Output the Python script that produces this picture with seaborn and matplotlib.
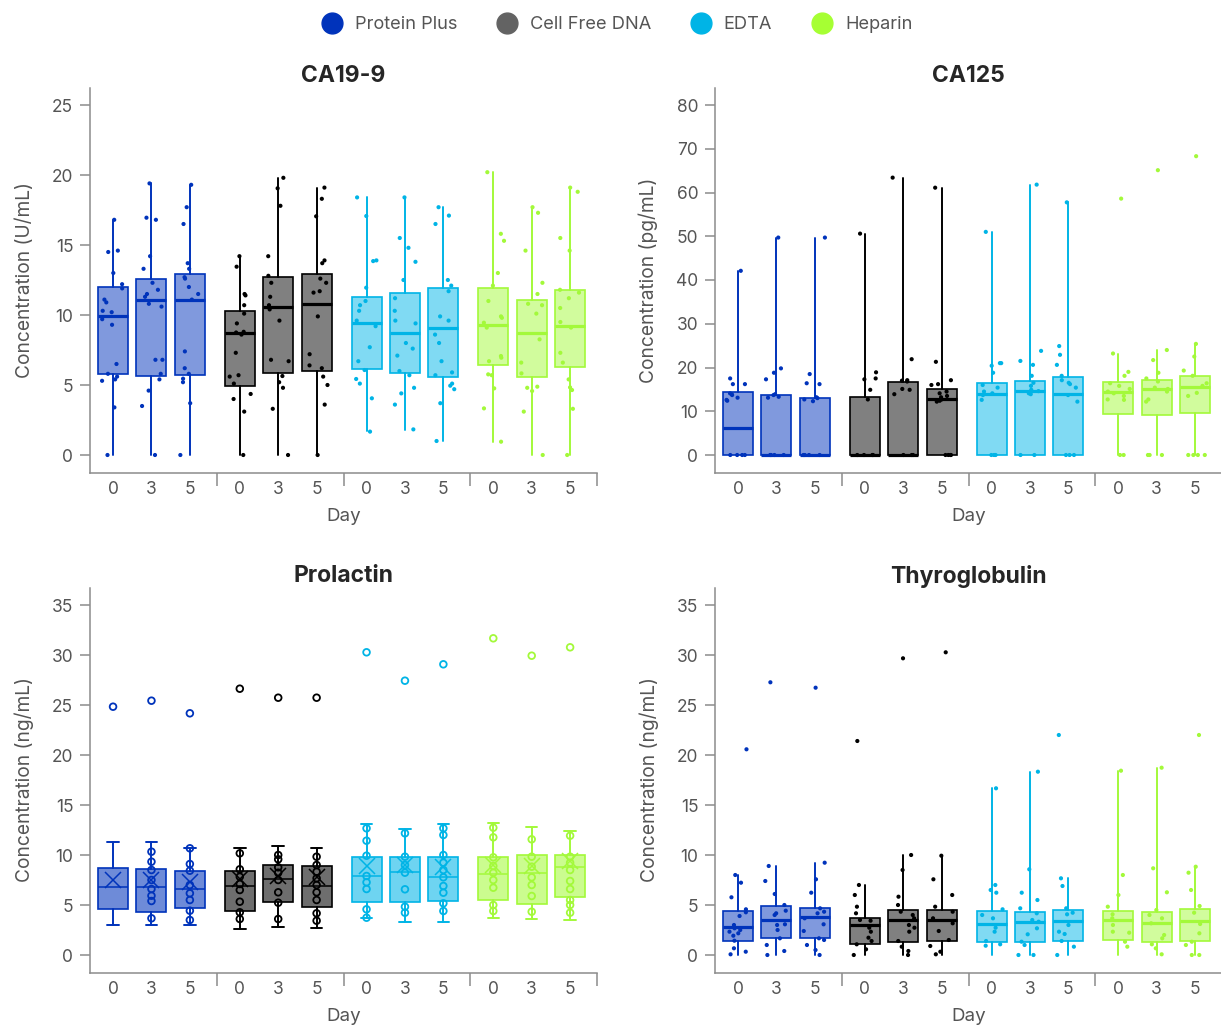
import numpy as np
import pandas as pd
import matplotlib
matplotlib.use('Agg')
import matplotlib.pyplot as plt
import seaborn as sns
from matplotlib.lines import Line2D
from matplotlib.colors import to_rgb

# ---- data ----
tubes = ['Protein Plus', 'Cell Free DNA', 'EDTA', 'Heparin']
days = ['0', '3', '5']
colors = {'Protein Plus': '#0033bb', 'Cell Free DNA': '#000000',
          'EDTA': '#00b4e6', 'Heparin': '#a3f93a'}
legend_colors = {'Protein Plus': '#0033bb', 'Cell Free DNA': '#636363',
                 'EDTA': '#00b4e6', 'Heparin': '#a6ff33'}

# CA19-9 (U/mL), box order: PP 0/3/5, CFDNA 0/3/5, EDTA 0/3/5, Heparin 0/3/5
ca199_lo = [0, 0, 0, 0, 0, 0, 1.7, 1.8, 1.0, 0.9, 0, 0]
ca199_q1 = [5.76, 5.67, 5.7, 4.95, 5.83, 6.0, 6.12, 5.83, 5.55, 6.43, 5.6, 6.26]
ca199_med = [9.93, 11.07, 11.07, 8.7, 10.55, 10.8, 9.4, 8.7, 9.1, 9.3, 8.7, 9.24]
ca199_q3 = [11.98, 12.57, 12.9, 10.3, 12.7, 12.9, 11.26, 11.6, 11.9, 11.9, 11.07, 11.8]
ca199_hi = [16.8, 19.4, 19.3, 14.2, 19.8, 19.1, 18.4, 18.4, 17.7, 20.2, 17.7, 19.1]
ca199_points = [
    [16.8, 14.6, 14.5, 13.0, 12.2, 11.9, 11.1, 10.9, 10.3, 10.2, 9.7, 9.3, 6.5, 5.8, 5.6, 5.4, 5.3, 3.4, 0.0],
    [19.4, 16.95, 16.8, 14.2, 13.3, 12.3, 11.8, 11.5, 11.3, 10.8, 10.6, 6.8, 6.8, 5.8, 5.4, 4.6, 3.5, 0.0],
    [19.3, 17.7, 16.5, 13.7, 13.3, 12.7, 12.6, 12.0, 11.5, 11.1, 7.4, 6.2, 5.8, 5.45, 5.2, 3.7, 0.0],
    [14.2, 13.45, 11.5, 11.4, 10.7, 10.1, 9.4, 8.8, 8.75, 8.6, 7.3, 5.7, 5.6, 5.1, 4.36, 4.0, 3.1, 0.0],
    [19.8, 19.05, 17.8, 14.2, 12.8, 12.3, 11.3, 10.7, 10.4, 9.6, 6.8, 6.7, 5.64, 5.2, 4.8, 3.3, 0.0],
    [19.1, 18.3, 17.05, 13.9, 13.7, 12.6, 12.3, 11.7, 11.6, 9.9, 7.2, 6.4, 6.2, 5.6, 5.0, 3.6, 0.0],
    [18.4, 17.07, 13.9, 13.85, 11.95, 11.0, 10.7, 10.3, 9.6, 9.2, 7.7, 6.7, 6.07, 5.43, 5.1, 4.05, 1.67],
    [18.4, 15.5, 14.8, 13.8, 12.5, 11.2, 10.3, 9.6, 9.4, 8.0, 7.6, 7.1, 6.0, 5.7, 4.8, 4.4, 3.6, 1.83],
    [17.7, 17.1, 16.5, 12.5, 12.1, 11.7, 9.9, 9.6, 8.6, 8.0, 6.7, 5.9, 5.7, 5.1, 4.95, 4.7, 3.7, 1.0],
    [20.2, 15.8, 15.3, 13.0, 12.1, 11.0, 9.9, 9.8, 9.45, 9.1, 7.07, 6.95, 6.7, 5.76, 5.7, 4.76, 3.33, 0.95],
    [17.7, 17.3, 14.6, 12.3, 11.5, 10.8, 10.7, 10.1, 8.26, 6.6, 5.83, 4.88, 4.8, 4.57, 3.1, 0.0],
    [19.1, 18.8, 15.5, 14.6, 11.8, 11.6, 11.2, 10.5, 9.5, 9.1, 7.3, 6.6, 5.4, 4.83, 4.64, 3.3, 0.0],
]

# CA125 (pg/mL)
ca125_lo = [0, 0, 0, 0, 0, 0, 0, 0, 0, 0, 0, 0]
ca125_q1 = [0, 0, 0, 0, 0, 0, 0, 0, 0, 9.4, 9.1, 9.7]
ca125_med = [6.2, 0, 0, 0, 0, 12.8, 13.9, 14.6, 13.9, 14.3, 15.0, 15.6]
ca125_q3 = [14.5, 13.7, 13.1, 13.2, 16.8, 15.0, 16.5, 16.9, 17.75, 16.6, 17.1, 18.1]
ca125_hi = [42.1, 49.7, 49.7, 50.6, 63.4, 61.1, 51.0, 61.8, 57.75, 23.2, 24.0, 25.4]
ca125_points = [
    [42.1, 17.5, 16.2, 16.2, 14.1, 13.9, 13.7, 13.1, 12.6, 12.4, 0, 0, 0, 0],
    [49.7, 19.8, 18.8, 17.3, 13.9, 13.7, 13.3, 13.1, 0, 0, 0, 0],
    [49.7, 18.5, 16.4, 16.2, 13.2, 13.0, 12.7, 12.3, 0, 0, 0, 0],
    [50.6, 18.9, 17.5, 17.3, 14.9, 12.7, 0, 0, 0, 0],
    [63.4, 21.9, 17.1, 17.0, 16.8, 15.1, 14.9, 13.9, 0, 0, 0],
    [61.1, 21.3, 17.1, 16.2, 16.0, 14.5, 14.1, 13.5, 13.2, 12.7, 12.4, 12.2, 0, 0, 0, 0],
    [51.0, 21.0, 21.0, 20.4, 18.8, 16.0, 15.4, 14.5, 14.1, 13.7, 12.6, 0, 0, 0],
    [61.8, 23.8, 21.5, 20.6, 18.1, 16.5, 15.8, 14.9, 14.6, 14.1, 13.9, 0, 0],
    [57.75, 24.9, 22.9, 20.6, 18.1, 17.1, 16.5, 16.2, 15.4, 13.7, 12.2, 0, 0, 0],
    [58.6, 23.2, 19.0, 18.1, 16.4, 15.8, 15.1, 14.5, 14.1, 13.5, 12.7, 12.6, 0, 0],
    [65.1, 24.0, 21.7, 18.8, 17.5, 16.8, 15.4, 15.1, 14.5, 12.7, 12.2, 0, 0, 0],
    [68.3, 25.4, 22.5, 19.3, 18.1, 16.4, 15.8, 14.2, 13.5, 0, 0, 0, 0],
]

# Prolactin (ng/mL)
prl_lo = [3.0, 3.0, 3.0, 2.6, 2.83, 2.73, 3.67, 3.33, 3.33, 3.73, 3.57, 3.5]
prl_q1 = [4.6, 4.33, 4.67, 4.4, 5.27, 4.77, 5.27, 5.27, 5.43, 5.5, 5.07, 5.77]
prl_med = [6.77, 6.77, 6.57, 6.9, 7.57, 6.93, 7.93, 8.27, 7.77, 8.1, 8.17, 8.83]
prl_q3 = [8.73, 8.57, 8.43, 8.43, 9.0, 8.9, 9.83, 9.83, 9.83, 9.83, 10.0, 10.0]
prl_hi = [11.33, 11.33, 10.73, 10.67, 10.9, 10.73, 13.07, 12.57, 13.07, 13.17, 12.83, 12.4]
prl_mean = [7.5, 7.5, 7.33, 7.6, 7.9, 7.83, 8.9, 9.0, 8.83, 9.0, 8.9, 9.43]
prl_points = [
    [24.83],
    [25.43, 10.33, 9.33, 8.5, 7.5, 6.6, 5.93, 5.4, 3.67],
    [24.17, 10.67, 9.1, 8.43, 7.0, 6.17, 5.5, 4.43, 3.5],
    [26.63, 10.17, 8.57, 7.83, 7.1, 6.5, 5.33, 4.27, 3.6],
    [25.73, 10.0, 9.57, 8.77, 8.23, 7.5, 6.27, 5.23, 3.6],
    [25.73, 9.83, 9.0, 8.33, 7.67, 7.0, 6.27, 5.5, 4.17, 3.43],
    [30.27, 12.67, 11.43, 9.93, 7.9, 7.27, 6.6, 4.57, 3.73],
    [27.43, 12.17, 9.83, 9.0, 8.23, 6.57, 4.83, 4.23],
    [29.07, 12.67, 12.0, 10.0, 9.23, 8.5, 7.77, 6.9, 6.23, 5.17, 4.4],
    [31.67, 12.73, 11.77, 9.77, 8.9, 8.23, 7.5, 6.73, 5.0, 4.4],
    [29.93, 11.57, 9.83, 8.83, 7.77, 7.0, 5.9, 4.33],
    [30.77, 11.93, 9.83, 9.23, 8.5, 7.4, 6.6, 5.5, 5.0, 4.23],
]

# Thyroglobulin (ng/mL)
thy_lo = [0, 0, 0, 0, 0, 0, 0, 0, 0, 0, 0, 0]
thy_q1 = [1.43, 1.67, 1.67, 1.1, 1.33, 1.43, 1.33, 1.33, 1.4, 1.5, 1.33, 1.43]
thy_med = [2.83, 3.5, 3.77, 3.0, 3.5, 3.5, 3.1, 3.33, 3.4, 3.5, 3.17, 3.43]
thy_q3 = [4.4, 4.9, 4.67, 3.67, 4.5, 4.5, 4.43, 4.33, 4.5, 4.43, 4.33, 4.57]
thy_hi = [8.0, 8.9, 9.23, 7.0, 10.0, 9.93, 16.67, 18.33, 7.67, 18.43, 18.67, 8.83]
thy_points = [
    [20.57, 8.0, 7.23, 5.77, 4.57, 4.27, 3.9, 3.0, 2.67, 2.5, 2.33, 2.17, 1.93, 1.43, 0.67, 0.33, 0.07],
    [27.27, 8.9, 7.4, 6.1, 5.0, 4.43, 4.17, 4.0, 3.07, 3.0, 2.5, 1.67, 1.0, 0.4, 0.0],
    [26.73, 9.23, 7.57, 6.23, 4.67, 4.33, 4.17, 3.67, 3.07, 2.4, 1.67, 1.5, 1.0, 0.5, 0.0],
    [21.4, 7.0, 6.0, 4.83, 4.17, 3.5, 3.43, 2.73, 2.33, 1.73, 1.4, 1.07, 0.57, 0.0],
    [29.67, 10.0, 8.5, 5.83, 5.0, 4.33, 4.0, 3.67, 3.0, 2.73, 2.33, 1.4, 0.83, 0.4, 0.0],
    [30.27, 9.93, 7.57, 6.0, 4.83, 4.33, 3.67, 3.17, 2.4, 1.5, 0.9, 0.33, 0.07],
    [16.67, 7.0, 6.5, 6.23, 4.57, 4.0, 3.67, 2.73, 2.33, 1.4, 1.07, 0.93],
    [18.33, 8.57, 6.23, 5.5, 4.67, 4.17, 3.5, 3.33, 2.67, 2.07, 1.33, 1.0, 0.0, 0.0],
    [22.0, 7.67, 6.9, 4.67, 4.23, 4.07, 3.0, 2.33, 2.1, 1.4, 0.83, 0.0],
    [18.43, 8.0, 6.0, 4.83, 4.07, 3.67, 3.0, 2.33, 2.23, 1.33, 0.83],
    [18.73, 8.67, 6.27, 4.5, 4.0, 3.67, 3.17, 2.0, 1.67, 1.07, 0.67, 0.07],
    [22.0, 8.83, 8.23, 6.5, 4.9, 4.23, 3.1, 2.17, 1.33, 1.0, 0.0, 0.0],
]

# ---- layout helpers ----
GROUP_W = 3.3
positions = [g * GROUP_W + 0.6 + d for g in range(4) for d in range(3)]
separators = [3.3, 6.6, 9.9, 13.2]
GREY = '#8c8c8c'
TXT = '#555555'


def mix_white(c, a):
    r = np.array(to_rgb(c))
    return tuple(a * r + (1 - a) * np.ones(3))


def long_table(points):
    rows = []
    for i, vals in enumerate(points):
        g = i // 3
        for v in vals:
            rows.append((tubes[g], positions[i], v))
    return pd.DataFrame(rows, columns=['tube', 'pos', 'value'])


def draw_panel(ax, title, ylabel, ylim, yticks, lo, q1, med, q3, hi, points,
               means=None):
    rings = means is not None
    for g, tube in enumerate(tubes):
        c = colors[tube]
        idx = range(3 * g, 3 * g + 3)
        stats = []
        for i in idx:
            s = dict(whislo=lo[i], q1=q1[i], med=med[i], q3=q3[i],
                     whishi=hi[i], fliers=[])
            if rings:
                s['mean'] = means[i]
            stats.append(s)
        ax.bxp(stats, positions=[positions[i] for i in idx], widths=0.78,
               patch_artist=True, showcaps=rings, showfliers=False,
               showmeans=rings, capwidths=0.3,
               boxprops=dict(facecolor=mix_white(c, 0.57 if rings else 0.5),
                             edgecolor=c, linewidth=1.2),
               whiskerprops=dict(color=c, linewidth=1.4),
               capprops=dict(color=c, linewidth=1.4),
               medianprops=dict(color=c, linewidth=1.1 if rings else 2.3),
               meanprops=dict(marker='x', markeredgecolor=c, markersize=12,
                              markeredgewidth=1.1))

    df = long_table(points)
    sns.stripplot(data=df, x='pos', y='value', hue='tube', hue_order=tubes,
                  palette=colors, native_scale=True,
                  jitter=False if rings else 0.3,
                  size=4.8 if rings else 3.0, linewidth=0, legend=False,
                  ax=ax, zorder=3)
    if rings:
        for coll in ax.collections:
            fc = coll.get_facecolors()
            coll.set_edgecolors(fc)
            coll.set_facecolors('none')
            coll.set_linewidth(1.3)

    ax.set_xlim(0, 13.2)
    ax.set_ylim(*ylim)
    ax.set_yticks(yticks)
    ax.set_xticks(positions)
    ax.set_xticklabels(days * 4)
    ax.set_xticks(separators, minor=True)
    ax.tick_params(axis='x', which='major', length=0, pad=6,
                   labelsize=12.5, labelcolor=TXT)
    ax.tick_params(axis='x', which='minor', length=9, width=1.1, color=GREY)
    ax.tick_params(axis='y', length=7, width=1.1, color=GREY, pad=5,
                   labelsize=12.5, labelcolor=TXT)
    for sp in ['top', 'right']:
        ax.spines[sp].set_visible(False)
    for sp in ['left', 'bottom']:
        ax.spines[sp].set_color(GREY)
        ax.spines[sp].set_linewidth(1.1)
    ax.set_xlabel('Day', fontsize=13.5, color=TXT, labelpad=7)
    ax.set_ylabel(ylabel, fontsize=13.8, color=TXT, labelpad=13)
    ax.set_title(title, fontsize=16.5, fontweight='bold', pad=3)


sns.set_style('ticks')
plt.rcParams['font.family'] = ['Inter', 'DejaVu Sans']
np.random.seed(3)

fig = plt.figure(figsize=(12.21, 10.25), dpi=100)
W, H = 507 / 1221, 385 / 1025
ax_tl = fig.add_axes([90 / 1221, 552.5 / 1025, W, H])
ax_tr = fig.add_axes([715 / 1221, 552.5 / 1025, W, H])
ax_bl = fig.add_axes([90 / 1221, 52.5 / 1025, W, H])
ax_br = fig.add_axes([715 / 1221, 52.5 / 1025, W, H])

draw_panel(ax_tl, 'CA19-9', 'Concentration (U/mL)', (-1.25, 26.25),
           range(0, 26, 5), ca199_lo, ca199_q1, ca199_med, ca199_q3,
           ca199_hi, ca199_points)
draw_panel(ax_tr, 'CA125', 'Concentration (pg/mL)', (-4, 84),
           range(0, 81, 10), ca125_lo, ca125_q1, ca125_med, ca125_q3,
           ca125_hi, ca125_points)
draw_panel(ax_bl, 'Prolactin', 'Concentration (ng/mL)', (-1.75, 36.75),
           range(0, 36, 5), prl_lo, prl_q1, prl_med, prl_q3, prl_hi,
           prl_points, means=prl_mean)
draw_panel(ax_br, 'Thyroglobulin', 'Concentration (ng/mL)', (-1.75, 36.75),
           range(0, 36, 5), thy_lo, thy_q1, thy_med, thy_q3, thy_hi,
           thy_points)

handles = [Line2D([], [], marker='o', ls='', markersize=15,
                  markerfacecolor=legend_colors[t],
                  markeredgecolor=legend_colors[t]) for t in tubes]
fig.legend(handles, tubes, loc='upper center', bbox_to_anchor=(0.502, 1.0),
           ncol=4, frameon=False, fontsize=13.1, labelcolor=TXT,
           handletextpad=0.25, columnspacing=1.75)

fig.savefig('out.png', dpi=100)
